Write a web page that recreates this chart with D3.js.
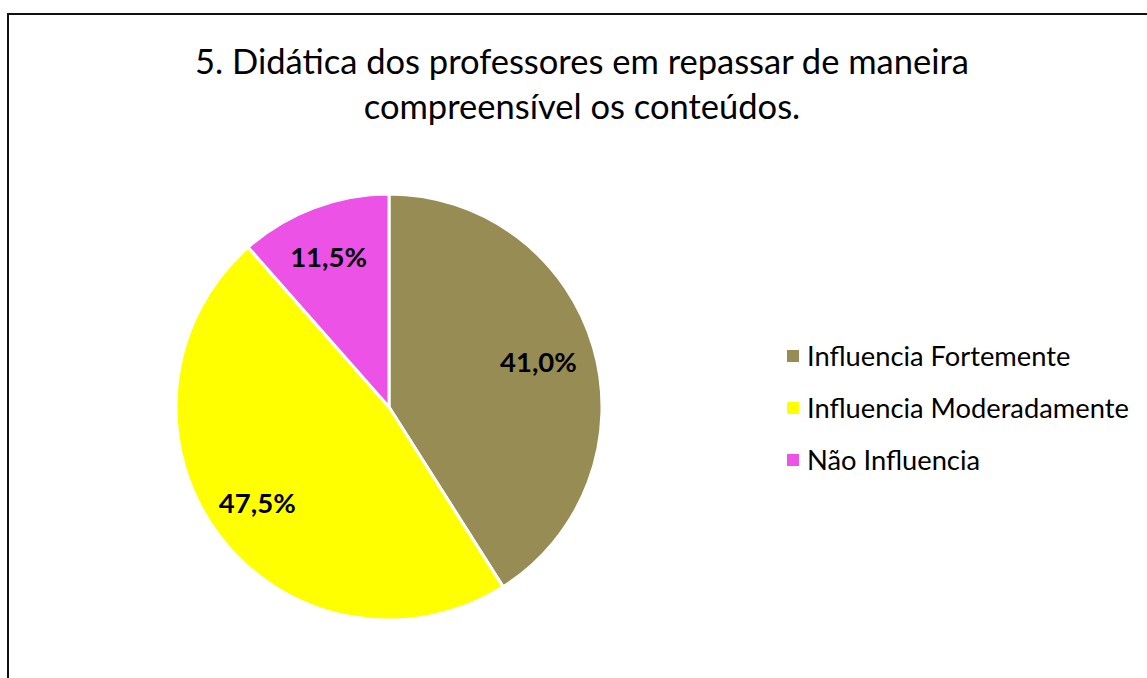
<!DOCTYPE html>
<html><head><meta charset="utf-8">
<script src="https://cdn.jsdelivr.net/npm/d3@7"></script>
<style>body{margin:0;background:#fff}svg{display:block}</style>
</head><body>
<svg id="chart" width="1147" height="678"></svg>
<script>
const categories = ["Influencia Fortemente", "Influencia Moderadamente", "Não Influencia"];
const values = [41.0, 47.5, 11.5];
const labels = ["41,0%", "47,5%", "11,5%"];
const colors = ["#978c53", "#ffff00", "#eb52e5"];
const titleLines = ["5. Didática dos professores em repassar de maneira", "compreensível os conteúdos."];

const svg = d3.select("#chart");
const font = "Lato, 'Open Sans', sans-serif";

svg.append("rect").attr("x", 8).attr("y", 14).attr("width", 1160).attr("height", 700)
  .attr("fill", "#fff").attr("stroke", "#111").attr("stroke-width", 2);

svg.append("g").selectAll("text").data(titleLines).join("text")
  .attr("x", 582).attr("y", (d, i) => 74 + i * 45)
  .attr("text-anchor", "middle").attr("font-family", font).attr("font-size", 34.5)
  .attr("fill", "#000").text(d => d);

const cx = 389, cy = 407, R = 213;
const pie = d3.pie().sort(null).value(d => d)(values);
const arc = d3.arc().innerRadius(0).outerRadius(R);
const labelArc = d3.arc().innerRadius(R * 0.75).outerRadius(R * 0.75);
const g = svg.append("g").attr("transform", `translate(${cx},${cy})`);
g.selectAll("path").data(pie).join("path")
  .attr("d", arc).attr("fill", (d, i) => colors[i])
  .attr("stroke", "#fff").attr("stroke-width", 3).attr("stroke-linejoin", "round");
g.selectAll("text").data(pie).join("text")
  .attr("transform", d => { const c = labelArc.centroid(d); return `translate(${c[0] - 4},${c[1]})`; })
  .attr("text-anchor", "middle").attr("dy", "0.35em")
  .attr("font-family", font).attr("font-weight", "bold").attr("font-size", 27.5)
  .attr("fill", "#000").text((d, i) => labels[i]);

const y = d3.scalePoint().domain(categories).range([356, 460]);
const leg = svg.append("g").selectAll("g").data(categories).join("g")
  .attr("transform", d => `translate(787,${y(d)})`);
leg.append("rect").attr("x", 0).attr("y", -6).attr("width", 12).attr("height", 12)
  .attr("fill", (d, i) => colors[i]);
leg.append("text").attr("x", 20).attr("dy", "0.35em")
  .attr("font-family", font).attr("font-size", 27.3).attr("fill", "#000").text(d => d);
</script>
</body></html>
